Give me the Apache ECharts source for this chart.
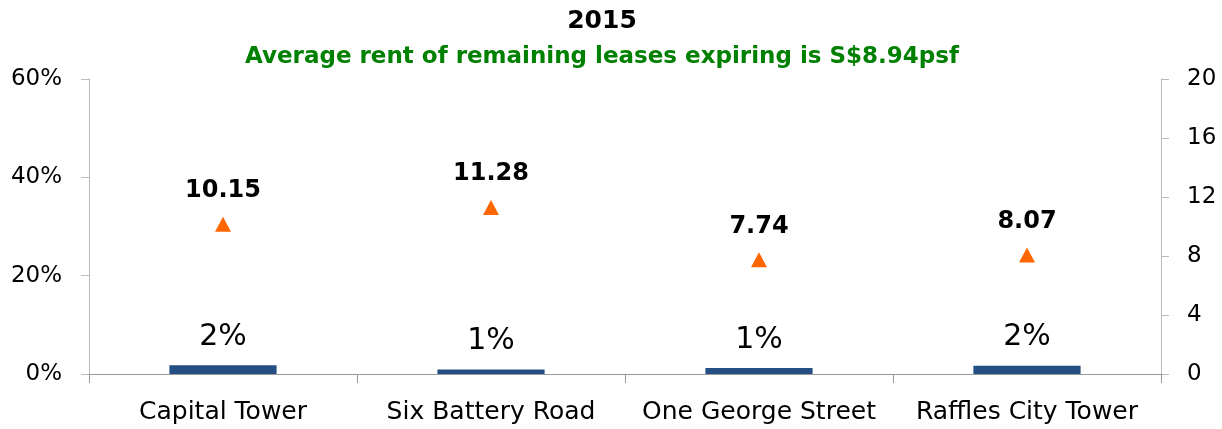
<!DOCTYPE html>
<html>
<head>
<meta charset="utf-8">
<script src="https://cdn.jsdelivr.net/npm/echarts@6/dist/echarts.min.js"></script>
<style>
  html, body { margin: 0; padding: 0; background: #fff; }
  #chart { width: 1222px; height: 429px; }
</style>
</head>
<body>
<div id="chart"></div>
<script>
// data
const buildings = ['Capital Tower', 'Six Battery Road', 'One George Street', 'Raffles City Tower']
const expiringPct = [1.8, 0.9, 1.2, 1.7]        // % of leases expiring (left axis)
const avgRent = [10.15, 11.28, 7.74, 8.07]       // S$ psf (right axis)
const leftTicks = [0, 20, 40, 60]
const rightTicks = [0, 4, 8, 12, 16, 20]

const font = 'DejaVu Sans'
const chart = echarts.init(document.getElementById('chart'))

chart.setOption({
  animation: false,
  title: [
    {
      text: '2015',
      left: 597, top: 4, textAlign: 'center',
      textStyle: { fontFamily: font, fontSize: 25, fontWeight: 'bold', color: '#000' }
    },
    {
      text: 'Average rent of remaining leases expiring is S$8.94psf',
      left: 597, top: 41, textAlign: 'center',
      textStyle: { fontFamily: font, fontSize: 23, fontWeight: 'bold', color: '#008000' }
    }
  ],
  grid: { left: 89, right: 61, top: 79, bottom: 55 },
  xAxis: {
    type: 'category',
    data: buildings,
    axisLine: { lineStyle: { color: '#999' } },
    axisTick: { show: true, interval: 0, length: 9, lineStyle: { color: '#999' } },
    axisLabel: {
      interval: 0, hideOverlap: false,
      fontFamily: font, fontSize: 25, color: '#000', margin: 26
    }
  },
  yAxis: [
    {
      type: 'value',
      min: leftTicks[0], max: leftTicks[leftTicks.length - 1], interval: 20,
      axisLine: { show: true, lineStyle: { color: '#bbb' } },
      axisTick: { show: true, length: 8, lineStyle: { color: '#bbb' } },
      splitLine: { show: false },
      axisLabel: { fontFamily: font, fontSize: 23, color: '#000', margin: 27, formatter: '{value}%' }
    },
    {
      type: 'value',
      min: rightTicks[0], max: rightTicks[rightTicks.length - 1], interval: 4,
      axisLine: { show: true, lineStyle: { color: '#bbb' } },
      axisTick: { show: true, length: 8, lineStyle: { color: '#bbb' } },
      splitLine: { show: false },
      axisLabel: { fontFamily: font, fontSize: 23, color: '#000', margin: 26 }
    }
  ],
  series: [
    {
      name: 'Expiring',
      type: 'bar',
      yAxisIndex: 0,
      data: expiringPct,
      barWidth: '40%',
      itemStyle: { color: '#234F82' },
      label: {
        show: true, position: 'top', distance: 13,
        fontFamily: font, fontSize: 30, color: '#000',
        formatter: p => Math.round(p.value) + '%'
      }
    },
    {
      name: 'Avg rent',
      type: 'scatter',
      yAxisIndex: 1,
      data: avgRent,
      symbol: 'triangle',
      symbolSize: [16, 15],
      itemStyle: { color: '#FF6600', opacity: 1 },
      label: {
        show: true, position: 'top', distance: 14,
        fontFamily: font, fontSize: 24, fontWeight: 'bold', color: '#000',
        formatter: p => p.value.toFixed(2)
      }
    }
  ]
})
</script>
</body>
</html>
